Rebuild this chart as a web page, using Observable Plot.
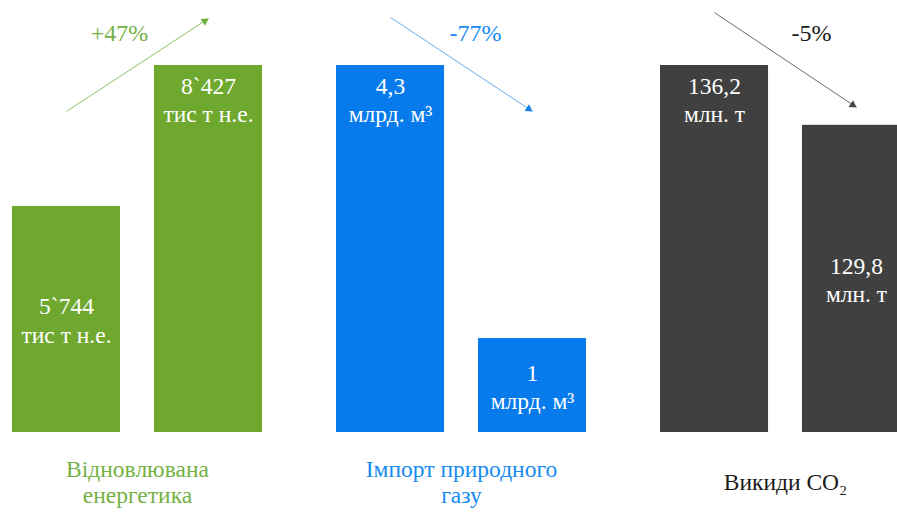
<!DOCTYPE html>
<html><head><meta charset="utf-8">
<script src="https://cdn.jsdelivr.net/npm/d3@7"></script>
<script src="https://cdn.jsdelivr.net/npm/@observablehq/plot@0.6"></script>
<style>html,body{margin:0;padding:0;background:#fff;overflow:hidden}
#chart svg text{font-family:"Liberation Serif",serif !important}</style>
</head><body><div id="chart"></div>
<script>
// ---- data ----
const groups = ["Відновлювана\nенергетика", "Імпорт природного\nгазу", "Викиди CO₂"];
const periods = ["було", "стало"];
// bar heights as drawn, in % of the tallest bar of each group
const barHeights = [[61.6, 100], [100, 25.6], [100, 83.7]];
const valueLabels = [["5`744", "8`427"], ["4,3", "1"], ["136,2", "129,8"]];
const unitLabels = ["тис т н.е.", "млрд. м³", "млн. т"];
const changeLabels = ["+47%", "-77%", "-5%"];
// arrow ends on the same % scale
const arrowFrom = [87.5, 113.1, 114.4];
const arrowTo = [112.8, 87.5, 88.6];

// ---- styles ----
const FONT = "Liberation Serif";
const barColors = ["#6fa82f", "#087bec", "#404040"];
const textColors = ["#74b143", "#178bf2", "#1a1a1a"];
const lineColors = ["#8cc266", "#62adf3", "#6a6a6a"];
const headColors = ["#6fae38", "#1a80ea", "#444444"];
const changeDx = [-18, 14, 26];
const FS = 23.5;

const rows = [];
groups.forEach((g, i) => {
  const mx = Math.max(...barHeights[i]);
  periods.forEach((p, j) => {
    rows.push({group: g, gi: i, period: p, h: barHeights[i][j], value: valueLabels[i][j],
      unit: unitLabels[i], top: barHeights[i][j] === mx});
  });
});
const arrows = groups.map((g, i) => ({group: g, gi: i, from: periods[0], to: periods[1], y1: arrowFrom[i], y2: arrowTo[i]}));
const topRows = rows.filter(d => d.top);
const midRows = rows.filter(d => !d.top);

const baseMarks = [
  Plot.barY(rows, {fx: "group", x: "period", y: "h", fill: d => barColors[d.gi]}),
  Plot.text(topRows, {fx: "group", x: "period", y: "h", text: "value", lineAnchor: "bottom", dy: 28, fill: "white", fontSize: FS}),
  Plot.text(topRows, {fx: "group", x: "period", y: "h", text: "unit", lineAnchor: "bottom", dy: 56, fill: "white", fontSize: FS}),
  Plot.text(midRows, {fx: "group", x: "period", y: d => d.h / 2, text: "value", lineAnchor: "bottom", dy: -5, fill: "white", fontSize: FS}),
  Plot.text(midRows, {fx: "group", x: "period", y: d => d.h / 2, text: "unit", lineAnchor: "bottom", dy: 23.5, fill: "white", fontSize: FS}),
  Plot.link(arrows, {fx: "group", x1: "from", x2: "to", y1: "y1", y2: "y2", stroke: d => lineColors[d.gi], strokeWidth: 1}),
  ...groups.map((g, i) => Plot.text([changeLabels[i]], {fx: () => g, y: () => 106.8, text: d => d, lineAnchor: "bottom", dx: changeDx[i], fill: textColors[i], fontSize: 24})),
  Plot.text(groups, {fx: d => d, text: d => d, frameAnchor: "bottom", lineAnchor: "middle", dy: 49, lineHeight: 1.106, fill: d => textColors[groups.indexOf(d)], fontSize: FS})
];

function build(extra) {
  return Plot.plot({
    width: 897,
    height: 512,
    marginLeft: 12,
    marginRight: -13,
    marginTop: 65,
    marginBottom: 80,
    style: {background: "#fff", fontFamily: FONT},
    fx: {domain: groups, paddingInner: 0.2284, paddingOuter: 0, round: false, axis: null, label: null},
    x: {domain: periods, paddingInner: 0.239, paddingOuter: 0, round: false, axis: null, label: null},
    y: {domain: [0, 100], axis: null, label: null},
    color: {type: "identity"},
    marks: [...baseMarks, ...extra]
  });
}

// first pass: read the pixel direction of each arrow to orient its filled head
const probe = build([]);
const xs = probe.scale("x"), ys = probe.scale("y");
const headMarks = arrows.map((a, i) => {
  const dxp = xs.apply(a.to) - xs.apply(a.from);
  const dyp = ys.apply(a.y2) - ys.apply(a.y1);
  const L = Math.hypot(dxp, dyp);
  const rot = Math.atan2(dyp, dxp) * 180 / Math.PI + 90;
  return Plot.dot([a], {fx: "group", x: "to", y: "y2", symbol: "triangle", r: 3, rotate: rot,
    fill: headColors[i], stroke: "none", dx: -dxp / L * 4.5, dy: -dyp / L * 4.5});
});

const chart = build(headMarks);
chart.querySelectorAll("text").forEach(t => t.style.fontFamily = "'Liberation Serif'");
document.getElementById("chart").appendChild(chart);
</script>
</body></html>
